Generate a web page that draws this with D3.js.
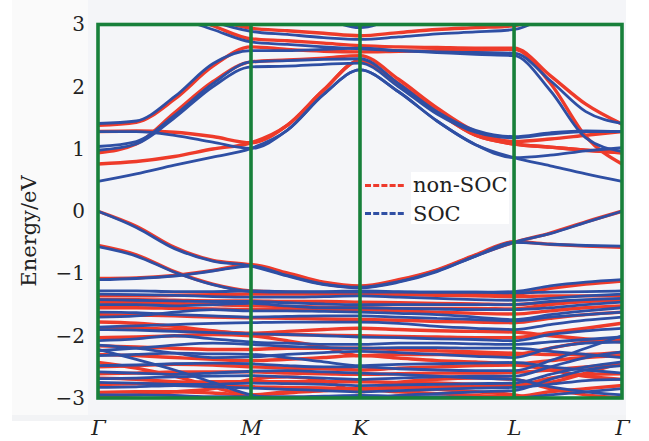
<!DOCTYPE html>
<html>
<head>
<meta charset="utf-8">
<script src="https://cdn.jsdelivr.net/npm/d3@7"></script>
<style>
body{margin:0;background:#fff;}
svg{display:block;}
</style>
</head>
<body>
<svg id="chart" width="649" height="441"></svg>
<script>
// high symmetry points and sampled k path (fraction of path length)
const kTicks = [0, 0.292, 0.5, 0.794, 1];
const kLabels = ['Γ', 'M', 'K', 'L', 'Γ'];
const kPath = [0, 0.073, 0.146, 0.219, 0.292, 0.361, 0.431, 0.5, 0.5735, 0.647, 0.7205, 0.794, 0.863, 0.931, 1];
const eTicks = [-3, -2, -1, 0, 1, 2, 3];

// non-SOC bands (eV), conduction side
const redCond = [
    [3.6, 3.5, 3.35, 3.1, 2.94, 2.9, 2.86, 2.82, 2.87, 2.92, 2.95, 2.98, 3.2, 3.45, 3.6],
    [3.45, 3.35, 3.2, 2.98, 2.77, 2.74, 2.7, 2.66, 2.64, 2.63, 2.62, 2.62, 2.18, 1.72, 1.40],
    [1.38, 1.43, 1.8, 2.33, 2.64, 2.6, 2.57, 2.56, 2.57, 2.58, 2.59, 2.60, 2.06, 1.2, 0.76],
    [0.94, 1.08, 1.58, 2.08, 2.40, 2.43, 2.46, 2.50, 2.12, 1.66, 1.28, 1.12, 1.16, 1.22, 1.28],
    [1.28, 1.29, 1.27, 1.2, 1.1, 1.38, 1.95, 2.42, 2.05, 1.6, 1.22, 1.08, 1.03, 0.98, 0.94],
    [0.76, 0.8, 0.88, 1.0, 1.1, 1.38, 1.95, 2.42, 2.05, 1.6, 1.22, 1.08, 1.03, 0.98, 0.94],
    [3.6, 3.6, 3.6, 3.6, 3.6, 3.5, 3.2, 2.98, 3.2, 3.5, 3.6, 3.6, 3.6, 3.6, 3.6]
];
const redVal = [
    [0, -0.24, -0.58, -0.79, -0.86, -1.01, -1.16, -1.22, -1.12, -0.95, -0.71, -0.5, -0.35, -0.17, 0],
    [-0.55, -0.7, -0.97, -1.17, -1.28, -1.3, -1.31, -1.32, -1.33, -1.33, -1.33, -1.33, -1.24, -1.17, -1.12],
    [-1.08, -1.07, -1.03, -0.95, -0.86, -0.99, -1.14, -1.2, -1.1, -0.94, -0.7, -0.49, -0.53, -0.56, -0.58]
];
const redDeep = [
    [-1.36, -1.36, -1.35, -1.34, -1.33, -1.33, -1.33, -1.32, -1.34, -1.35, -1.36, -1.37, -1.36, -1.36, -1.36],
    [-1.42, -1.42, -1.43, -1.44, -1.44, -1.45, -1.45, -1.46, -1.47, -1.48, -1.49, -1.5, -1.46, -1.44, -1.44],
    [-1.46, -1.47, -1.48, -1.5, -1.52, -1.53, -1.54, -1.55, -1.56, -1.56, -1.56, -1.57, -1.5, -1.45, -1.42],
    [-1.55, -1.55, -1.56, -1.57, -1.58, -1.58, -1.58, -1.58, -1.6, -1.62, -1.64, -1.65, -1.6, -1.55, -1.52],
    [-1.66, -1.67, -1.68, -1.7, -1.71, -1.72, -1.73, -1.74, -1.75, -1.77, -1.78, -1.79, -1.72, -1.66, -1.62],
    [-1.78, -1.8, -1.85, -1.92, -1.97, -1.98, -1.99, -2.0, -2.01, -2.02, -2.03, -2.03, -1.95, -1.88, -1.8],
    [-1.88, -1.88, -1.9, -1.93, -1.96, -1.93, -1.9, -1.88, -1.9, -1.92, -1.93, -1.94, -2.0, -2.05, -2.1],
    [-2.03, -2.02, -2.0, -1.98, -2.0, -2.08, -2.18, -2.32, -2.3, -2.3, -2.3, -2.3, -2.2, -2.1, -2.05],
    [-2.16, -2.18, -2.2, -2.22, -2.22, -2.2, -2.2, -2.2, -2.22, -2.24, -2.26, -2.28, -2.3, -2.3, -2.27],
    [-2.3, -2.32, -2.35, -2.38, -2.4, -2.38, -2.35, -2.32, -2.36, -2.4, -2.42, -2.45, -2.4, -2.35, -2.32],
    [-2.43, -2.52, -2.65, -2.82, -2.95, -2.92, -2.88, -2.86, -2.84, -2.82, -2.81, -2.8, -2.75, -2.6, -2.43],
    [-2.5, -2.48, -2.46, -2.47, -2.5, -2.52, -2.53, -2.55, -2.52, -2.5, -2.48, -2.47, -2.55, -2.65, -2.7],
    [-2.61, -2.6, -2.58, -2.58, -2.58, -2.6, -2.61, -2.62, -2.61, -2.6, -2.6, -2.59, -2.55, -2.5, -2.45],
    [-2.68, -2.7, -2.74, -2.78, -2.82, -2.83, -2.84, -2.85, -2.83, -2.86, -2.9, -2.95, -3.05, -3.1, -3.1],
    [-2.78, -2.77, -2.75, -2.74, -2.74, -2.74, -2.74, -2.74, -2.75, -2.76, -2.78, -2.8, -2.68, -2.62, -2.61],
    [-2.91, -2.9, -2.9, -2.92, -2.95, -2.9, -2.88, -2.86, -2.9, -2.93, -2.96, -2.98, -2.9, -2.85, -2.8],
    [-2.97, -2.95, -2.9, -2.85, -2.7, -2.66, -2.72, -2.9, -2.75, -2.7, -2.68, -2.7, -2.85, -2.95, -3.0]
];

// SOC bands (eV)
const blueCond = [
    [3.6, 3.5, 3.3, 3.05, 2.89, 2.84, 2.79, 2.76, 2.8, 2.85, 2.88, 2.92, 3.15, 3.4, 3.6],
    [3.4, 3.3, 3.12, 2.92, 2.72, 2.68, 2.64, 2.61, 2.58, 2.56, 2.55, 2.54, 2.1, 1.6, 1.41],
    [1.41, 1.45, 1.84, 2.37, 2.58, 2.58, 2.6, 2.62, 2.58, 2.55, 2.52, 2.50, 1.94, 1.18, 0.96],
    [1.04, 1.12, 1.54, 2.05, 2.40, 2.42, 2.44, 2.45, 2.05, 1.6, 1.3, 1.2, 1.26, 1.29, 1.28],
    [0.98, 1.08, 1.5, 2.0, 2.32, 2.33, 2.36, 2.38, 2.0, 1.56, 1.27, 1.18, 1.24, 1.28, 1.28],
    [1.28, 1.28, 1.22, 1.11, 1.01, 1.3, 1.88, 2.27, 1.92, 1.45, 1.07, 0.86, 0.73, 0.6, 0.48],
    [0.48, 0.6, 0.74, 0.87, 1.01, 1.3, 1.88, 2.27, 1.92, 1.45, 1.07, 0.86, 0.9, 0.97, 1.02],
    [3.6, 3.6, 3.6, 3.6, 3.6, 3.45, 3.12, 2.95, 3.15, 3.5, 3.6, 3.6, 3.6, 3.6, 3.6]
];
const blueVal = [
    [0, -0.26, -0.6, -0.8, -0.88, -1.04, -1.18, -1.23, -1.14, -0.97, -0.72, -0.5, -0.36, -0.18, 0],
    [-0.57, -0.72, -0.98, -1.18, -1.29, -1.3, -1.3, -1.3, -1.3, -1.3, -1.3, -1.29, -1.2, -1.14, -1.1],
    [-1.1, -1.08, -1.04, -0.96, -0.88, -1.03, -1.17, -1.22, -1.13, -0.96, -0.72, -0.5, -0.53, -0.55, -0.56]
];
const blueDeep = [
    [-1.28, -1.28, -1.29, -1.29, -1.28, -1.29, -1.29, -1.28, -1.29, -1.3, -1.3, -1.31, -1.3, -1.29, -1.28],
    [-1.33, -1.34, -1.35, -1.37, -1.38, -1.38, -1.37, -1.36, -1.38, -1.4, -1.42, -1.43, -1.4, -1.36, -1.33],
    [-1.42, -1.43, -1.44, -1.45, -1.45, -1.47, -1.49, -1.5, -1.5, -1.5, -1.5, -1.5, -1.45, -1.42, -1.4],
    [-1.5, -1.5, -1.52, -1.5, -1.48, -1.52, -1.55, -1.55, -1.56, -1.57, -1.58, -1.58, -1.55, -1.5, -1.46],
    [-1.62, -1.63, -1.66, -1.68, -1.7, -1.69, -1.68, -1.68, -1.7, -1.72, -1.74, -1.76, -1.7, -1.66, -1.62],
    [-1.7, -1.68, -1.62, -1.58, -1.6, -1.6, -1.61, -1.62, -1.64, -1.66, -1.7, -1.74, -1.66, -1.6, -1.55],
    [-1.86, -1.84, -1.82, -1.8, -1.79, -1.78, -1.78, -1.78, -1.8, -1.85, -1.88, -1.9, -1.82, -1.75, -1.7],
    [-1.9, -1.91, -1.93, -1.95, -1.97, -1.98, -2.0, -2.02, -2.03, -2.05, -2.06, -2.08, -1.98, -1.92, -1.88],
    [-2.08, -2.05, -2.0, -2.05, -2.1, -2.12, -2.14, -2.14, -2.12, -2.12, -2.13, -2.14, -2.1, -2.06, -2.02],
    [-2.15, -2.2, -2.28, -2.35, -2.34, -2.3, -2.27, -2.25, -2.27, -2.3, -2.33, -2.35, -2.2, -2.12, -2.1],
    [-2.24, -2.2, -2.15, -2.12, -2.14, -2.17, -2.19, -2.2, -2.19, -2.19, -2.2, -2.2, -2.25, -2.3, -2.35],
    [-2.22, -2.38, -2.55, -2.75, -2.95, -3.02, -3.05, -3.02, -2.96, -2.93, -2.9, -2.88, -2.7, -2.55, -2.48],
    [-2.32, -2.3, -2.28, -2.29, -2.3, -2.35, -2.42, -2.48, -2.46, -2.45, -2.44, -2.43, -2.5, -2.55, -2.6],
    [-2.48, -2.47, -2.45, -2.44, -2.45, -2.48, -2.5, -2.5, -2.53, -2.55, -2.56, -2.56, -2.4, -2.2, -2.0],
    [-2.58, -2.6, -2.62, -2.6, -2.57, -2.56, -2.58, -2.6, -2.62, -2.65, -2.68, -2.7, -2.82, -2.9, -2.95],
    [-2.69, -2.68, -2.66, -2.65, -2.64, -2.66, -2.68, -2.7, -2.68, -2.66, -2.65, -2.65, -2.5, -2.35, -2.26],
    [-2.75, -2.76, -2.78, -2.78, -2.76, -2.77, -2.78, -2.8, -2.79, -2.78, -2.77, -2.76, -2.62, -2.5, -2.42],
    [-2.83, -2.82, -2.8, -2.82, -2.84, -2.86, -2.88, -2.9, -2.88, -2.86, -2.84, -2.83, -2.78, -2.72, -2.7],
    [-2.95, -2.95, -2.96, -2.98, -2.98, -2.98, -2.97, -2.96, -2.97, -2.98, -2.99, -3.0, -2.95, -2.9, -2.85]
];

const legendItems = [{name: 'non-SOC', color: '#ee3a2c'}, {name: 'SOC', color: '#2f4fa4'}];

const W = 649, H = 441;
const margin = {left: 98, right: 27, top: 24.5, bottom: 43};
const svg = d3.select('#chart');
const x = d3.scaleLinear().domain([0, 1]).range([margin.left, W - margin.right]);
const y = d3.scaleLinear().domain([-3, 3]).range([H - margin.bottom, margin.top]);

// page backgrounds
svg.append('rect').attr('x', 12).attr('y', 0).attr('width', 614).attr('height', 421).attr('fill', '#f2f3f5');
svg.append('rect').attr('x', 12).attr('y', 0).attr('width', 76).attr('height', 415).attr('fill', '#fafafa');
svg.append('rect').attr('x', 88).attr('y', 0).attr('width', 538).attr('height', 415).attr('fill', '#f4f5f8');

const defs = svg.append('defs');
defs.append('clipPath').attr('id', 'plotclip').append('rect')
    .attr('x', x(0)).attr('y', y(3)).attr('width', x(1) - x(0)).attr('height', y(-3) - y(3));
defs.append('filter').attr('id', 'soft').attr('x', '-5%').attr('y', '-5%').attr('width', '110%').attr('height', '110%')
    .append('feGaussianBlur').attr('stdDeviation', 0.55);

const line = d3.line()
    .x(function(d, i){ return x(kPath[i]); })
    .y(function(d){ return y(d); })
    .curve(d3.curveMonotoneX);

const plot = svg.append('g').attr('clip-path', 'url(#plotclip)');

let redBands = redCond.concat(redVal, redDeep);
let blueBands = blueCond.concat(blueVal, blueDeep);

plot.append('g').attr('filter', 'url(#soft)').selectAll('path')
    .data(redBands)
    .enter().append('path')
    .attr('d', line)
    .attr('fill', 'none')
    .attr('stroke', legendItems[0].color)
    .attr('stroke-width', 3.4);

plot.append('g').attr('filter', 'url(#soft)').selectAll('path')
    .data(blueBands)
    .enter().append('path')
    .attr('d', line)
    .attr('fill', 'none')
    .attr('stroke', legendItems[1].color)
    .attr('stroke-width', 2.8);

// frame and high symmetry lines
const green = '#17803a';
svg.append('rect')
    .attr('x', x(0)).attr('y', y(3)).attr('width', x(1) - x(0)).attr('height', y(-3) - y(3))
    .attr('fill', 'none').attr('stroke', green).attr('stroke-width', 3.6);
svg.selectAll('.kline')
    .data(kTicks.slice(1, -1))
    .enter().append('line')
    .attr('class', 'kline')
    .attr('x1', function(d){ return x(d); }).attr('x2', function(d){ return x(d); })
    .attr('y1', y(3)).attr('y2', y(-3))
    .attr('stroke', green).attr('stroke-width', 3.6);

// axes
const yAxis = svg.append('g')
    .attr('transform', 'translate(' + x(0) + ',0)')
    .call(d3.axisLeft(y).tickValues(eTicks).tickSize(0).tickPadding(13).tickFormat(d3.format('d')));
yAxis.select('.domain').remove();
yAxis.selectAll('text')
    .style('font-family', '"DejaVu Serif", serif')
    .style('font-size', '20px')
    .attr('fill', '#222');

const xAxis = svg.append('g')
    .attr('transform', 'translate(0,' + y(-3) + ')')
    .call(d3.axisBottom(x).tickValues(kTicks).tickSize(0).tickFormat(function(d, i){ return kLabels[i]; }));
xAxis.select('.domain').remove();
xAxis.selectAll('text')
    .attr('y', 37).attr('dy', null)
    .style('font-family', '"DejaVu Serif", serif')
    .style('font-style', 'italic')
    .style('font-size', '21px')
    .attr('fill', '#222');

svg.append('text')
    .attr('transform', 'translate(36,231) rotate(-90)')
    .attr('text-anchor', 'middle')
    .style('font-family', '"DejaVu Serif", serif')
    .style('font-size', '21px')
    .attr('fill', '#222')
    .text('Energy/eV');

// legend
const legend = svg.append('g');
legend.append('rect').attr('x', 411).attr('y', 172).attr('width', 98).attr('height', 52).attr('fill', '#ffffff');
legend.selectAll('line')
    .data(legendItems)
    .enter().append('line')
    .attr('x1', 365).attr('x2', 406)
    .attr('y1', function(d, i){ return 185.5 + i * 28; })
    .attr('y2', function(d, i){ return 185.5 + i * 28; })
    .attr('stroke', function(d){ return d.color; })
    .attr('stroke-width', 3)
    .attr('stroke-dasharray', '6,2.2');
legend.selectAll('text')
    .data(legendItems)
    .enter().append('text')
    .attr('x', 413)
    .attr('y', function(d, i){ return 192 + i * 29; })
    .style('font-family', '"DejaVu Serif", serif')
    .style('font-size', '21px')
    .attr('fill', '#222')
    .text(function(d){ return d.name; });
</script>
</body>
</html>
